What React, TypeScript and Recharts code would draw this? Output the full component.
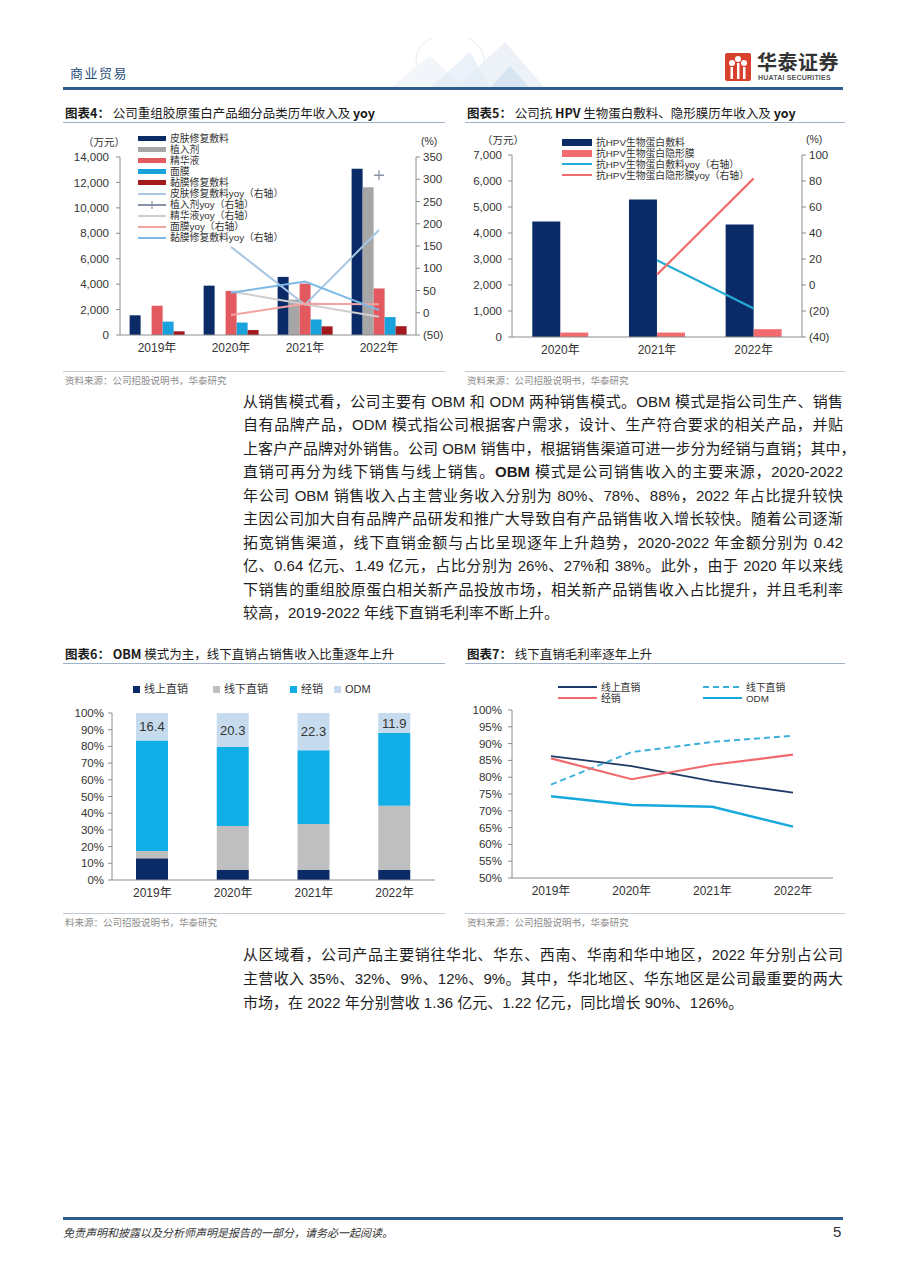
import React from 'react';
import { ComposedChart, BarChart, LineChart, Bar, Line, XAxis, YAxis, LabelList } from 'recharts';

// ---------- Chart 4 data ----------
const years4 = ['2019年', '2020年', '2021年', '2022年'];
const skinDressing = [1550, 3880, 4570, 13080];
const implant = [null, null, 2780, 11620];
const essence = [2300, 3470, 4040, 3660];
const facialMask = [1050, 980, 1220, 1410];
const mucosaDressing = [290, 390, 680, 690];
const skinDressingYoy = [null, 148, 18, 186];
const implantYoy = [null, null, null, 309];
const essenceYoy = [null, 48, 19, -9];
const facialMaskYoy = [null, -5, 20, 19];
const mucosaYoy = [null, 45, 70, 6];
const ticks4Left = [0, 2000, 4000, 6000, 8000, 10000, 12000, 14000];
const ticks4Right = [-50, 0, 50, 100, 150, 200, 250, 300, 350];

// ---------- Chart 5 data ----------
const years5 = ['2020年', '2021年', '2022年'];
const hpvDressing = [4440, 5290, 4330];
const hpvFilm = [170, 170, 300];
const hpvDressingYoy = [null, 19, -18];
const hpvFilmYoy = [null, 8, 82];
const ticks5Left = [0, 1000, 2000, 3000, 4000, 5000, 6000, 7000];
const ticks5Right = [-40, -20, 0, 20, 40, 60, 80, 100];

// ---------- Chart 6 data ----------
const years6 = ['2019年', '2020年', '2021年', '2022年'];
const onlineDirect = [13, 6, 6, 6];
const offlineDirect = [4.4, 26.4, 27.6, 38.4];
const distribution = [66.2, 47.3, 44.1, 43.7];
const odmShare = [16.4, 20.3, 22.3, 11.9];
const ticks6 = [0, 10, 20, 30, 40, 50, 60, 70, 80, 90, 100];

// ---------- Chart 7 data ----------
const years7 = ['2019年', '2020年', '2021年', '2022年'];
const onlineMargin = [86.3, 83.3, 78.8, 75.4];
const offlineMargin = [77.8, 87.5, 90.5, 92.3];
const distributionMargin = [85.6, 79.4, 83.7, 86.7];
const odmMargin = [74.3, 71.7, 71.2, 65.3];
const ticks7 = [50, 55, 60, 65, 70, 75, 80, 85, 90, 95, 100];

const data4 = years4.map((y, i) => ({
  year: y,
  skin: skinDressing[i],
  implant: implant[i],
  essence: essence[i],
  mask: facialMask[i],
  mucosa: mucosaDressing[i],
  skinYoy: skinDressingYoy[i],
  implantYoy: implantYoy[i],
  essenceYoy: essenceYoy[i],
  maskYoy: facialMaskYoy[i],
  mucosaYoy: mucosaYoy[i],
}));
const data5 = years5.map((y, i) => ({
  year: y,
  dressing: hpvDressing[i],
  film: hpvFilm[i],
  dressingYoy: hpvDressingYoy[i],
  filmYoy: hpvFilmYoy[i],
}));
const data6 = years6.map((y, i) => ({
  year: y,
  online: onlineDirect[i],
  offline: offlineDirect[i],
  dist: distribution[i],
  odm: odmShare[i],
}));
const data7 = years7.map((y, i) => ({
  year: y,
  online: onlineMargin[i],
  offline: offlineMargin[i],
  dist: distributionMargin[i],
  odm: odmMargin[i],
}));

const FONT = '"Liberation Sans", Arial, "Noto Sans CJK SC", sans-serif';
const CJK = '"Noto Sans CJK SC", "Liberation Sans", sans-serif';
const tickStyle = { fontSize: 11.5, fill: '#333', fontFamily: FONT };
const axisColor = '#8c8c8c';

const paren = (v: number) => (v < 0 ? `(${-v})` : `${v}`);
const thousands = (v: number) => v.toLocaleString('en-US');

const PlusDot = (props: any) => {
  const { cx, cy, value, index } = props;
  if (value == null || cx == null || cy == null) return <g key={`pd${index}`} />;
  return (
    <path
      key={`pd${index}`}
      d={`M${cx - 5},${cy}H${cx + 5}M${cx},${cy - 5}V${cy + 5}`}
      stroke="#8a94a8"
      strokeWidth={1.3}
    />
  );
};

type LegItem = { name: string; color: string; kind: 'bar' | 'line' | 'dash' | 'sq' | 'plus' };

const Swatch = ({ item, w, h }: { item: LegItem; w: number; h: number }) => {
  if (item.kind === 'bar') {
    return <div style={{ width: w, height: h, background: item.color, flex: 'none' }} />;
  }
  if (item.kind === 'sq') {
    return <div style={{ width: 7, height: 7, background: item.color, flex: 'none' }} />;
  }
  return (
    <svg width={w} height={8} style={{ display: 'block', flex: 'none' }}>
      <line
        x1={0}
        y1={4}
        x2={w}
        y2={4}
        stroke={item.color}
        strokeWidth={2}
        strokeDasharray={item.kind === 'dash' ? '6 4' : undefined}
      />
      {item.kind === 'plus' && (
        <path d={`M${w / 2 - 4},4H${w / 2 + 4}M${w / 2},0V8`} stroke={item.color} strokeWidth={1.2} />
      )}
    </svg>
  );
};

const LegendRow = ({ item, x, y, w, h, font }: { item: LegItem; x: number; y: number; w: number; h: number; font: number }) => (
  <div
    style={{
      position: 'absolute',
      left: x,
      top: y - 5.5,
      height: 11,
      lineHeight: '11px',
      display: 'flex',
      alignItems: 'center',
      gap: 4,
      whiteSpace: 'nowrap',
      fontSize: font,
      color: '#333',
      fontFamily: FONT,
    }}
  >
    <Swatch item={item} w={w} h={h} />
    <span style={{ lineHeight: '11px' }}>{item.name}</span>
  </div>
);

const legend4: LegItem[] = [
  { name: '皮肤修复敷料', color: '#0b2a68', kind: 'bar' },
  { name: '植入剂', color: '#a6a6a6', kind: 'bar' },
  { name: '精华液', color: '#e2595f', kind: 'bar' },
  { name: '面膜', color: '#19a2dc', kind: 'bar' },
  { name: '黏膜修复敷料', color: '#a3191c', kind: 'bar' },
  { name: '皮肤修复敷料yoy（右轴）', color: '#a9c6e2', kind: 'line' },
  { name: '植入剂yoy（右轴）', color: '#8a94a8', kind: 'plus' },
  { name: '精华液yoy（右轴）', color: '#cfcfcf', kind: 'line' },
  { name: '面膜yoy（右轴）', color: '#f4a3a3', kind: 'line' },
  { name: '黏膜修复敷料yoy（右轴）', color: '#7db9e6', kind: 'line' },
];
const legend5: LegItem[] = [
  { name: '抗HPV生物蛋白敷料', color: '#0b2a68', kind: 'bar' },
  { name: '抗HPV生物蛋白隐形膜', color: '#f26b6f', kind: 'bar' },
  { name: '抗HPV生物蛋白敷料yoy（右轴）', color: '#26acd6', kind: 'line' },
  { name: '抗HPV生物蛋白隐形膜yoy（右轴）', color: '#f26b6f', kind: 'line' },
];
const legend6: LegItem[] = [
  { name: '线上直销', color: '#0b2a68', kind: 'sq' },
  { name: '线下直销', color: '#bfbfbf', kind: 'sq' },
  { name: '经销', color: '#12aee8', kind: 'sq' },
  { name: 'ODM', color: '#c7dbef', kind: 'sq' },
];
const legend7: LegItem[] = [
  { name: '线上直销', color: '#1f3a68', kind: 'line' },
  { name: '线下直销', color: '#3ab0da', kind: 'dash' },
  { name: '经销', color: '#f06a6e', kind: 'line' },
  { name: 'ODM', color: '#15a9dc', kind: 'line' },
];

const Title = ({ x, y, w, children }: { x: number; y: number; w: number; children: React.ReactNode }) => (
  <>
    <div
      style={{
        position: 'absolute',
        left: x,
        top: y - 8,
        height: 16,
        lineHeight: '16px',
        fontSize: 12.5,
        color: '#1a1a1a',
        fontFamily: CJK,
        whiteSpace: 'nowrap',
      }}
    >
      {children}
    </div>
    <div style={{ position: 'absolute', left: x - 2, top: y + 9, width: w, height: 1, background: '#9fb3c8' }} />
  </>
);

const Source = ({ x, y, w, text }: { x: number; y: number; w: number; text: string }) => (
  <>
    <div style={{ position: 'absolute', left: x - 2, top: y - 9, width: w, height: 1, background: '#c3ccd6' }} />
    <div
      style={{
        position: 'absolute',
        left: x,
        top: y - 7,
        height: 14,
        lineHeight: '14px',
        fontSize: 9.5,
        color: '#8c8c8c',
        fontFamily: CJK,
        whiteSpace: 'nowrap',
      }}
    >
      {text}
    </div>
  </>
);

const TextLine = ({ y, children, justify = true, left = 243, width = 600 }: any) => (
  <div
    style={{
      position: 'absolute',
      left,
      top: y - 10,
      width,
      height: 20,
      lineHeight: '20px',
      fontSize: 15,
      color: '#1e1e1e',
      fontFamily: FONT,
      textAlign: 'justify',
      textAlignLast: justify ? 'justify' : 'left',
      whiteSpace: 'nowrap',
    }}
  >
    {children}
  </div>
);

const Chart4 = () => (
  <ComposedChart
    width={400}
    height={245}
    data={data4}
    margin={{ top: 37, right: 0, bottom: 0, left: 0 }}
    barCategoryGap="13%"
    barGap={0}
  >
    <XAxis dataKey="year" height={30} tickLine={false} tickSize={0} tickMargin={8} axisLine={{ stroke: axisColor }} tick={{ ...tickStyle, fontSize: 12 }} />
    <YAxis yAxisId="left" width={60} domain={[0, 14000]} ticks={ticks4Left} tickFormatter={thousands} tick={tickStyle} tickSize={4} tickMargin={7} axisLine={{ stroke: axisColor }} tickLine={{ stroke: axisColor }} interval={0} />
    <YAxis yAxisId="right" orientation="right" width={44} domain={[-50, 350]} ticks={ticks4Right} tickFormatter={paren} tick={tickStyle} tickSize={4} tickMargin={3} axisLine={{ stroke: axisColor }} tickLine={{ stroke: axisColor }} interval={0} />
    <Bar yAxisId="left" dataKey="skin" fill="#0b2a68" isAnimationActive={false} />
    <Bar yAxisId="left" dataKey="implant" fill="#a6a6a6" isAnimationActive={false} />
    <Bar yAxisId="left" dataKey="essence" fill="#e2595f" isAnimationActive={false} />
    <Bar yAxisId="left" dataKey="mask" fill="#19a2dc" isAnimationActive={false} />
    <Bar yAxisId="left" dataKey="mucosa" fill="#a3191c" isAnimationActive={false} />
    <Line yAxisId="right" dataKey="skinYoy" stroke="#a9c6e2" strokeWidth={2} dot={false} isAnimationActive={false} />
    <Line yAxisId="right" dataKey="implantYoy" stroke="#8a94a8" strokeWidth={2} dot={PlusDot} isAnimationActive={false} />
    <Line yAxisId="right" dataKey="essenceYoy" stroke="#cfcfcf" strokeWidth={2} dot={false} isAnimationActive={false} />
    <Line yAxisId="right" dataKey="maskYoy" stroke="#f4a3a3" strokeWidth={2} dot={false} isAnimationActive={false} />
    <Line yAxisId="right" dataKey="mucosaYoy" stroke="#7db9e6" strokeWidth={2} dot={false} isAnimationActive={false} />
  </ComposedChart>
);

const Chart5 = () => (
  <ComposedChart
    width={400}
    height={245}
    data={data5}
    margin={{ top: 35, right: 0, bottom: 0, left: 0 }}
    barCategoryGap="21%"
    barGap={0}
  >
    <XAxis dataKey="year" height={28} tickLine={false} tickSize={0} tickMargin={8} axisLine={{ stroke: axisColor }} tick={{ ...tickStyle, fontSize: 12 }} />
    <YAxis yAxisId="left" width={52} domain={[0, 7000]} ticks={ticks5Left} tickFormatter={thousands} tick={tickStyle} tickSize={4} tickMargin={6} axisLine={{ stroke: axisColor }} tickLine={{ stroke: axisColor }} interval={0} />
    <YAxis yAxisId="right" orientation="right" width={58} domain={[-40, 100]} ticks={ticks5Right} tickFormatter={paren} tick={tickStyle} tickSize={4} tickMargin={3} axisLine={{ stroke: axisColor }} tickLine={{ stroke: axisColor }} interval={0} />
    <Bar yAxisId="left" dataKey="dressing" fill="#0b2a68" isAnimationActive={false} />
    <Bar yAxisId="left" dataKey="film" fill="#f26b6f" isAnimationActive={false} />
    <Line yAxisId="right" dataKey="dressingYoy" stroke="#26acd6" strokeWidth={2.2} dot={false} isAnimationActive={false} />
    <Line yAxisId="right" dataKey="filmYoy" stroke="#f26b6f" strokeWidth={2.2} dot={false} isAnimationActive={false} />
  </ComposedChart>
);

const Chart6 = () => (
  <BarChart width={400} height={245} data={data6} margin={{ top: 48, right: 25, bottom: 0, left: 0 }}>
    <XAxis dataKey="year" height={30} tickLine={false} tickSize={0} tickMargin={8} axisLine={{ stroke: axisColor }} tick={{ ...tickStyle, fontSize: 12 }} />
    <YAxis width={52} domain={[0, 100]} ticks={ticks6} tickFormatter={(v: number) => `${v}%`} tick={tickStyle} tickSize={4} tickMargin={4} axisLine={{ stroke: axisColor }} tickLine={{ stroke: axisColor }} interval={0} />
    <Bar dataKey="online" stackId="s" fill="#0b2a68" barSize={32} isAnimationActive={false} />
    <Bar dataKey="offline" stackId="s" fill="#bfbfbf" barSize={32} isAnimationActive={false} />
    <Bar dataKey="dist" stackId="s" fill="#12aee8" barSize={32} isAnimationActive={false} />
    <Bar dataKey="odm" stackId="s" fill="#c7dbef" barSize={32} isAnimationActive={false}>
      <LabelList dataKey="odm" position="center" style={{ fontSize: 13, fill: '#333', fontFamily: FONT }} />
    </Bar>
  </BarChart>
);

const Chart7 = () => (
  <LineChart width={400} height={245} data={data7} margin={{ top: 45, right: 27, bottom: 0, left: 0 }}>
    <XAxis dataKey="year" height={32} padding={{ left: 39, right: 40 }} tickLine={false} tickSize={0} tickMargin={8} axisLine={{ stroke: axisColor }} tick={{ ...tickStyle, fontSize: 12 }} />
    <YAxis width={52} domain={[50, 100]} ticks={ticks7} tickFormatter={(v: number) => `${v}%`} tick={tickStyle} tickSize={4} tickMargin={6} axisLine={{ stroke: axisColor }} tickLine={{ stroke: axisColor }} interval={0} />
    <Line dataKey="online" stroke="#1f3a68" strokeWidth={1.8} dot={false} isAnimationActive={false} />
    <Line dataKey="offline" stroke="#3ab0da" strokeWidth={2} strokeDasharray="6 4" dot={false} isAnimationActive={false} />
    <Line dataKey="dist" stroke="#f06a6e" strokeWidth={2.2} dot={false} isAnimationActive={false} />
    <Line dataKey="odm" stroke="#15a9dc" strokeWidth={2.5} dot={false} isAnimationActive={false} />
  </LineChart>
);

const B = ({ children }: any) => <b style={{ fontWeight: 700 }}>{children}</b>;

export default function App() {
  return (
    <div
      style={{
        position: 'absolute',
        left: 0,
        top: 0,
        width: 905,
        height: 1280,
        background: '#ffffff',
        overflow: 'hidden',
        fontFamily: FONT,
      }}
    >
      {/* header decoration */}
      <svg style={{ position: 'absolute', left: 370, top: 38, opacity: 0.55 }} width={200} height={50}>
        <ellipse cx={80} cy={22} rx={34} ry={26} fill="none" stroke="#d5dde6" strokeWidth={1} />
        <path d="M20,50 L60,18 L95,50 Z" fill="#e8eef5" />
        <path d="M85,50 L135,4 L175,50 Z" fill="#e0e9f3" />
        <path d="M120,50 L140,28 L160,50 Z" fill="#b7d1e8" />
        <path d="M60,50 L100,14 L120,50 Z" fill="#c9dcee" opacity={0.7} />
      </svg>
      <div style={{ position: 'absolute', left: 70, top: 65, height: 16, lineHeight: '16px', fontSize: 13, letterSpacing: 1.5, color: '#1f4e79', fontFamily: CJK }}>商业贸易</div>
      {/* logo */}
      <svg style={{ position: 'absolute', left: 725, top: 53 }} width={26} height={28}>
        <rect x={0} y={0} width={26} height={28} rx={2} fill="#d9412f" />
        <circle cx={7} cy={10} r={3} fill="#fff" />
        <circle cx={19} cy={10} r={3} fill="#fff" />
        <circle cx={13} cy={6} r={3} fill="#fff" />
        <rect x={5.5} y={14} width={2.5} height={12} fill="#fff" />
        <rect x={12} y={10} width={2.5} height={16} fill="#fff" />
        <rect x={18} y={14} width={2.5} height={12} fill="#fff" />
      </svg>
      <div style={{ position: 'absolute', left: 757, top: 51, height: 22, lineHeight: '22px', fontSize: 20, fontWeight: 700, color: '#333', fontFamily: CJK, letterSpacing: 0.5 }}>华泰证券</div>
      <div style={{ position: 'absolute', left: 758, top: 74, height: 8, lineHeight: '8px', fontSize: 7, fontWeight: 700, color: '#555', fontFamily: FONT, letterSpacing: 0.2 }}>HUATAI SECURITIES</div>
      <div style={{ position: 'absolute', left: 63, top: 87, width: 780, height: 3, background: '#2d5b8a' }} />

      {/* Chart 4 */}
      <Title x={65} y={113} w={382}>
        <b>图表4：</b>&nbsp;公司重组胶原蛋白产品细分品类历年收入及 <b>yoy</b>
      </Title>
      <div style={{ position: 'absolute', left: 60, top: 120 }}>
        <Chart4 />
      </div>
      <div style={{ position: 'absolute', left: 83, top: 135, height: 13, lineHeight: '13px', fontSize: 10.5, color: '#333', fontFamily: CJK }}>（万元）</div>
      <div style={{ position: 'absolute', left: 421, top: 135, height: 13, lineHeight: '13px', fontSize: 10.5, color: '#333', fontFamily: FONT }}>(%)</div>
      {legend4.map((it, i) => (
        <LegendRow key={it.name} item={it} x={138} y={138 + i * 11.1} w={28} h={5} font={9.8} />
      ))}
      <Source x={65} y={380} w={382} text="资料来源：公司招股说明书，华泰研究" />

      {/* Chart 5 */}
      <Title x={467} y={113} w={380}>
        <b>图表5：</b>&nbsp;公司抗 <b>HPV</b> 生物蛋白敷料、隐形膜历年收入及 <b>yoy</b>
      </Title>
      <div style={{ position: 'absolute', left: 460, top: 120 }}>
        <Chart5 />
      </div>
      <div style={{ position: 'absolute', left: 482, top: 133, height: 13, lineHeight: '13px', fontSize: 10.5, color: '#333', fontFamily: CJK }}>（万元）</div>
      <div style={{ position: 'absolute', left: 806, top: 133, height: 13, lineHeight: '13px', fontSize: 10.5, color: '#333', fontFamily: FONT }}>(%)</div>
      {legend5.map((it, i) => (
        <LegendRow key={it.name} item={it} x={562} y={142 + i * 11} w={30} h={7} font={9.8} />
      ))}
      <Source x={467} y={380} w={380} text="资料来源：公司招股说明书，华泰研究" />

      {/* Paragraph 1 */}
      <TextLine y={402}>从销售模式看，公司主要有 OBM 和 ODM 两种销售模式。OBM 模式是指公司生产、销售</TextLine>
      <TextLine y={425}>自有品牌产品，ODM 模式指公司根据客户需求，设计、生产符合要求的相关产品，并贴</TextLine>
      <TextLine y={449} width={605}>上客户产品牌对外销售。公司 OBM 销售中，根据销售渠道可进一步分为经销与直销；其中，</TextLine>
      <TextLine y={472}>直销可再分为线下销售与线上销售。<B>OBM</B> 模式是公司销售收入的主要来源，2020-2022</TextLine>
      <TextLine y={496}>年公司 OBM 销售收入占主营业务收入分别为 80%、78%、88%，2022 年占比提升较快</TextLine>
      <TextLine y={519}>主因公司加大自有品牌产品研发和推广大导致自有产品销售收入增长较快。随着公司逐渐</TextLine>
      <TextLine y={543}>拓宽销售渠道，线下直销金额与占比呈现逐年上升趋势，2020-2022 年金额分别为 0.42</TextLine>
      <TextLine y={566}>亿、0.64 亿元、1.49 亿元，占比分别为 26%、27%和 38%。此外，由于 2020 年以来线</TextLine>
      <TextLine y={590}>下销售的重组胶原蛋白相关新产品投放市场，相关新产品销售收入占比提升，并且毛利率</TextLine>
      <TextLine y={613} justify={false}>较高，2019-2022 年线下直销毛利率不断上升。</TextLine>

      {/* Chart 6 */}
      <Title x={65} y={654} w={382}>
        <b>图表6：</b>&nbsp;<b>OBM</b> 模式为主，线下直销占销售收入比重逐年上升
      </Title>
      <div style={{ position: 'absolute', left: 60, top: 665 }}>
        <Chart6 />
      </div>
      {legend6.map((it, i) => (
        <LegendRow key={it.name} item={it} x={[133, 213, 290, 334][i]} y={689} w={7} h={7} font={11} />
      ))}
      <Source x={65} y={922} w={382} text="料来源：公司招股说明书，华泰研究" />

      {/* Chart 7 */}
      <Title x={467} y={654} w={380}>
        <b>图表7：</b>&nbsp;线下直销毛利率逐年上升
      </Title>
      <div style={{ position: 'absolute', left: 460, top: 665 }}>
        <Chart7 />
      </div>
      {legend7.map((it, i) => (
        <LegendRow key={it.name} item={it} x={i % 2 === 0 ? 558 : 703} y={i < 2 ? 687 : 698} w={39} h={2} font={9.8} />
      ))}
      <Source x={467} y={922} w={380} text="资料来源：公司招股说明书，华泰研究" />

      {/* Paragraph 2 */}
      <TextLine y={955}>从区域看，公司产品主要销往华北、华东、西南、华南和华中地区，2022 年分别占公司</TextLine>
      <TextLine y={979}>主营收入 35%、32%、9%、12%、9%。其中，华北地区、华东地区是公司最重要的两大</TextLine>
      <TextLine y={1003} justify={false}>市场，在 2022 年分别营收 1.36 亿元、1.22 亿元，同比增长 90%、126%。</TextLine>

      {/* Footer */}
      <div style={{ position: 'absolute', left: 63, top: 1217, width: 780, height: 3, background: '#2d5b8a' }} />
      <div style={{ position: 'absolute', left: 63, top: 1225, height: 14, lineHeight: '14px', fontSize: 11, fontStyle: 'italic', color: '#333', fontFamily: CJK }}>
        免责声明和披露以及分析师声明是报告的一部分，请务必一起阅读。
      </div>
      <div style={{ position: 'absolute', left: 833, top: 1224, height: 16, lineHeight: '16px', fontSize: 15, color: '#333', fontFamily: FONT }}>5</div>
    </div>
  );
}
